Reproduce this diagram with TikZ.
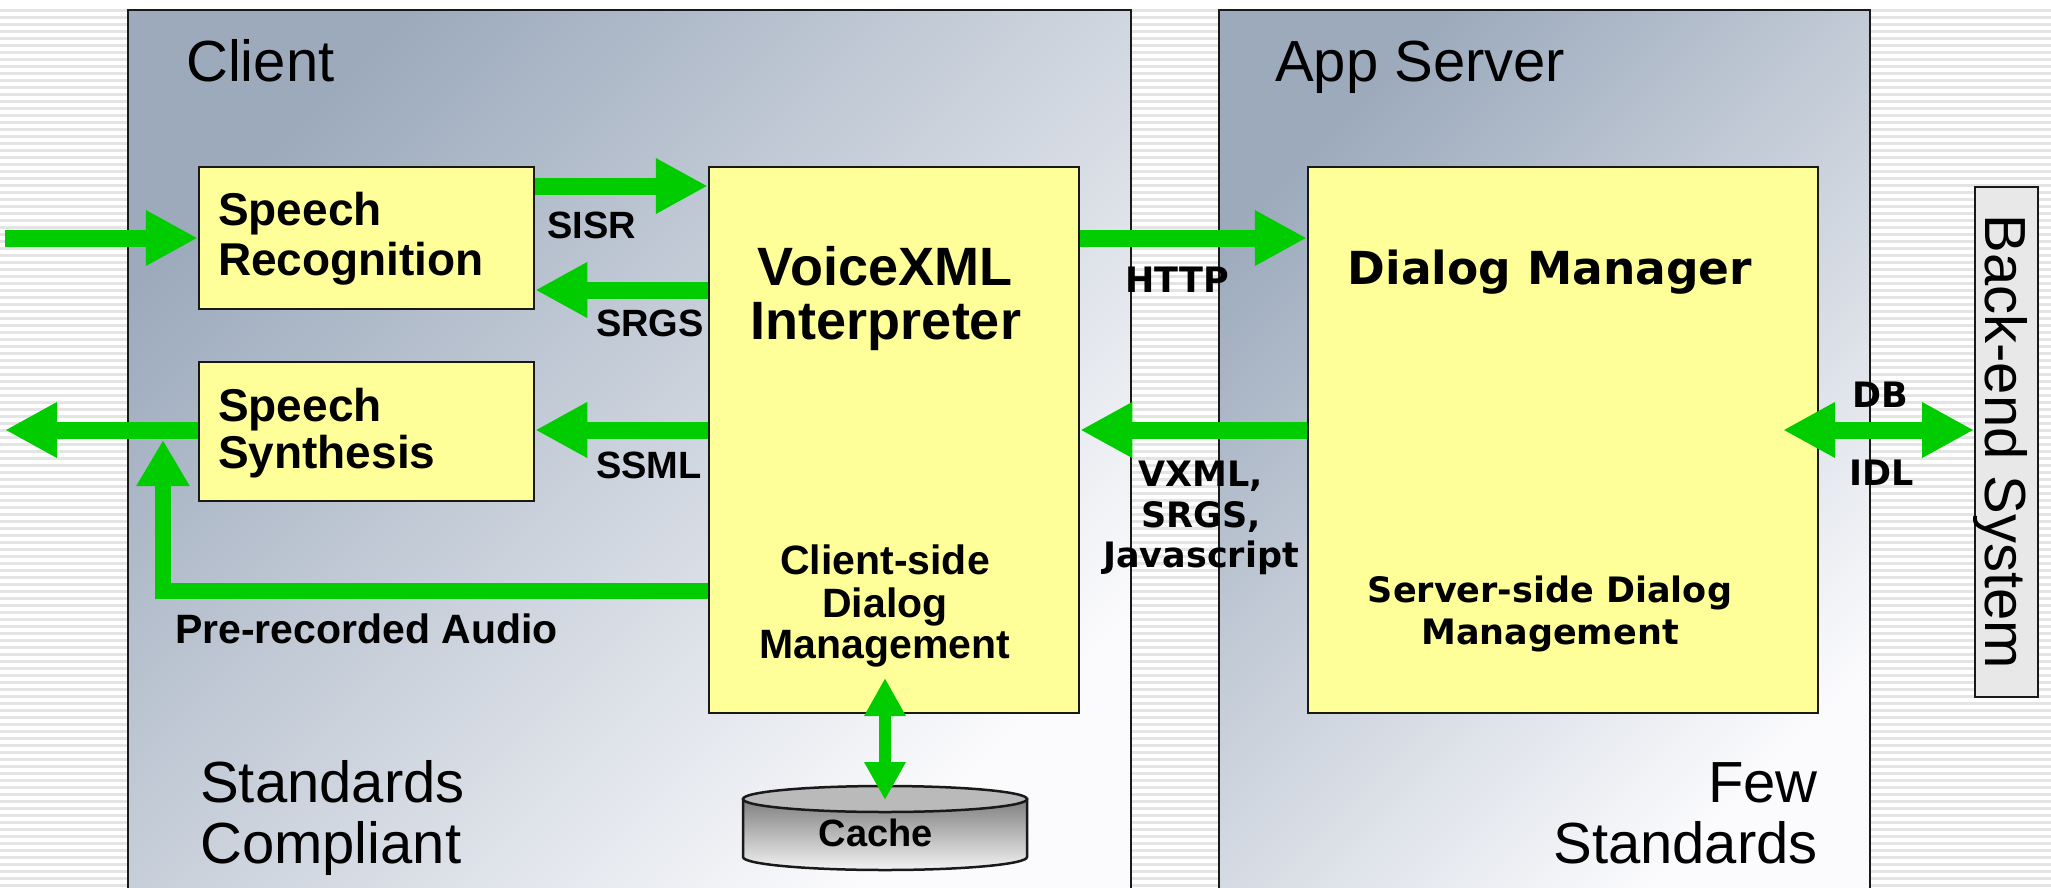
\documentclass[tikz,border=0pt]{standalone}
\usepackage{fontspec}
\setmainfont{Liberation Sans}
\newfontfamily\vfont{DejaVu Sans}
\usetikzlibrary{arrows.meta,calc}

\definecolor{arrowgreen}{RGB}{0,204,0}
\definecolor{boxyellow}{RGB}{255,255,153}
\definecolor{paneldark}{RGB}{156,170,188}
\definecolor{panellight}{RGB}{251,251,253}
\definecolor{stripe}{RGB}{228,228,228}
\definecolor{edge}{RGB}{25,25,25}

\newcommand\fsz[1]{\fontsize{#1}{#1}\selectfont}

\begin{document}
\begin{tikzpicture}[x=1pt,y=-1pt,
  panel/.style={draw=edge, line width=2pt, top color=paneldark, bottom color=panellight, shading angle=45, inner sep=0pt},
  block/.style={draw=edge, line width=2.5pt, fill=boxyellow, inner sep=0pt},
  flow/.style={draw=arrowgreen, line width=17pt, -{Triangle[length=52pt,width=52pt]}},
  flowboth/.style={draw=arrowgreen, line width=17pt, {Triangle[length=52pt,width=52pt]}-{Triangle[length=52pt,width=52pt]}},
  flowup/.style={draw=arrowgreen, line width=16pt, line join=miter, -{Triangle[length=46pt,width=50pt]}},
  cacheflow/.style={draw=arrowgreen, line width=12pt, {Triangle[length=38pt,width=39pt]}-{Triangle[length=38pt,width=39pt]}},
  big/.style={font=\fsz{58}, inner sep=0pt},
  boxtxt/.style={font=\bfseries\fsz{46}, inner sep=0pt},
  vxitxt/.style={font=\bfseries\fsz{54}, inner sep=0pt},
  dmtxt/.style={font=\vfont\bfseries\fsz{45.5}, inner sep=0pt},
  lbl/.style={font=\bfseries\fsz{38}, inner sep=0pt},
  cdm/.style={font=\bfseries\fsz{41}, inner sep=0pt},
  vlbl/.style={font=\vfont\bfseries\fsz{35}, inner sep=0pt}
]
\useasboundingbox (0,0) rectangle (2051,887);
\fill[white] (0,0) rectangle (2051,887);

% pinstriped backdrop
\foreach \yy in {10,17,...,887}
  \draw[stripe, line width=3pt] (0,\yy) -- (2051,\yy);

% the two tiers
\node[panel, minimum width=1003pt, minimum height=888pt] (clientpanel) at (629.5,454) {};
\node[panel, minimum width=651pt, minimum height=888pt] (serverpanel) at (1544.5,454) {};

% components
\node[block, minimum width=335pt, minimum height=142pt] (sr) at (366.5,238) {};
\node[block, minimum width=335pt, minimum height=139pt] (ss) at (366.5,431.5) {};
\node[block, minimum width=370pt, minimum height=546pt] (vxi) at (894,440) {};
\node[block, minimum width=510pt, minimum height=546pt] (dm) at (1563,440) {};
\node[draw=edge, line width=2pt, fill=black!9, inner sep=0pt,
      minimum width=63pt, minimum height=510pt] (be) at (2006.5,442) {};

% cache cylinder
\shade[top color=black!50, bottom color=black!5, draw=edge, line width=2.5pt]
  (743,799) -- (743,857) arc[start angle=180, end angle=360, x radius=142pt, y radius=13pt]
  -- (1027,799) -- cycle;
\draw[fill=black!27, draw=edge, line width=2.5pt] (885,799) ellipse [x radius=142pt, y radius=13pt];
\node[lbl, anchor=base] (cache) at (876,846) {Cache};

% free ends of connectors
\coordinate (inp) at (5,238);
\coordinate (outp) at (5,430);
\coordinate (prcorner) at (163,591);
\coordinate (prtip) at (163,440);
\coordinate (dbend) at (1783,430);
\coordinate (cacheA) at (885,678);
\coordinate (cacheB) at (885,800);

% data flows
\draw[flow] (inp) -- (sr.west);
\draw[flow] (sr.east |- 0,186) -- (vxi.west |- 0,186);
\draw[flow] (vxi.west |- 0,290) -- (sr.east |- 0,290);
\draw[flow] (vxi.west |- 0,430) -- (ss.east |- 0,430);
\draw[flow] (ss.west |- 0,430) -- (outp);
\draw[flowup] (vxi.west |- 0,591) -- (prcorner) -- (prtip);
\draw[flow] (vxi.east |- 0,238) -- (dm.west |- 0,238);
\draw[flow] (dm.west |- 0,430) -- (vxi.east |- 0,430);
\draw[flowboth] (dbend) -- (be.west |- 0,430);
\draw[cacheflow] (cacheA) -- (cacheB);

% tier captions
\node[big, anchor=base west] (tclient) at (186,81) {Client};
\node[big, anchor=base west] (tapp) at (1275,81) {App Server};
\node[big, anchor=base west] (tstd1) at (200,802) {Standards};
\node[big, anchor=base west] (tstd2) at (200,863) {Compliant};
\node[big, anchor=base east] (tfew1) at (1818,802) {Few};
\node[big, anchor=base east] (tfew2) at (1818,863) {Standards};
\node[big, rotate=-90, anchor=base] (tbe) at (1985,442) {Back-end System};

% component titles
\node[boxtxt, anchor=base west] (sr1) at (218,225) {Speech};
\node[boxtxt, anchor=base west] (sr2) at (218,275) {Recognition};
\node[boxtxt, anchor=base west] (ss1) at (218,421) {Speech};
\node[boxtxt, anchor=base west] (ss2) at (218,468) {Synthesis};
\node[vxitxt, anchor=base] (vx1) at (885,285) {VoiceXML};
\node[vxitxt, anchor=base] (vx2) at (886,339) {Interpreter};
\node[dmtxt, anchor=base] (dmt) at (1550,284) {Dialog Manager};

\node[cdm, anchor=base] (cd1) at (885,574) {Client-side};
\node[cdm, anchor=base] (cd2) at (885,617) {Dialog};
\node[cdm, anchor=base] (cd3) at (885,658) {Management};
\node[vlbl, anchor=base] (sd1) at (1550,602) {Server-side Dialog};
\node[vlbl, anchor=base] (sd2) at (1550,644) {Management};

% flow labels
\node[lbl, anchor=base west] (lsisr) at (547,238) {SISR};
\node[lbl, anchor=base west] (lsrgs) at (596,336) {SRGS};
\node[lbl, anchor=base west] (lssml) at (596,478) {SSML};
\node[cdm, anchor=base west] (lpre) at (175,643) {Pre-recorded Audio};
\node[vlbl, anchor=base west] (lhttp) at (1125,292) {HTTP};
\node[vlbl, anchor=base] (lv1) at (1201,486) {VXML,};
\node[vlbl, anchor=base] (lv2) at (1201,527) {SRGS,};
\node[vlbl, anchor=base] (lv3) at (1201,567) {Javascript};
\node[vlbl, anchor=base] (ldb) at (1880,407) {DB};
\node[vlbl, anchor=base] (lidl) at (1882,485) {IDL};
\end{tikzpicture}
\end{document}
